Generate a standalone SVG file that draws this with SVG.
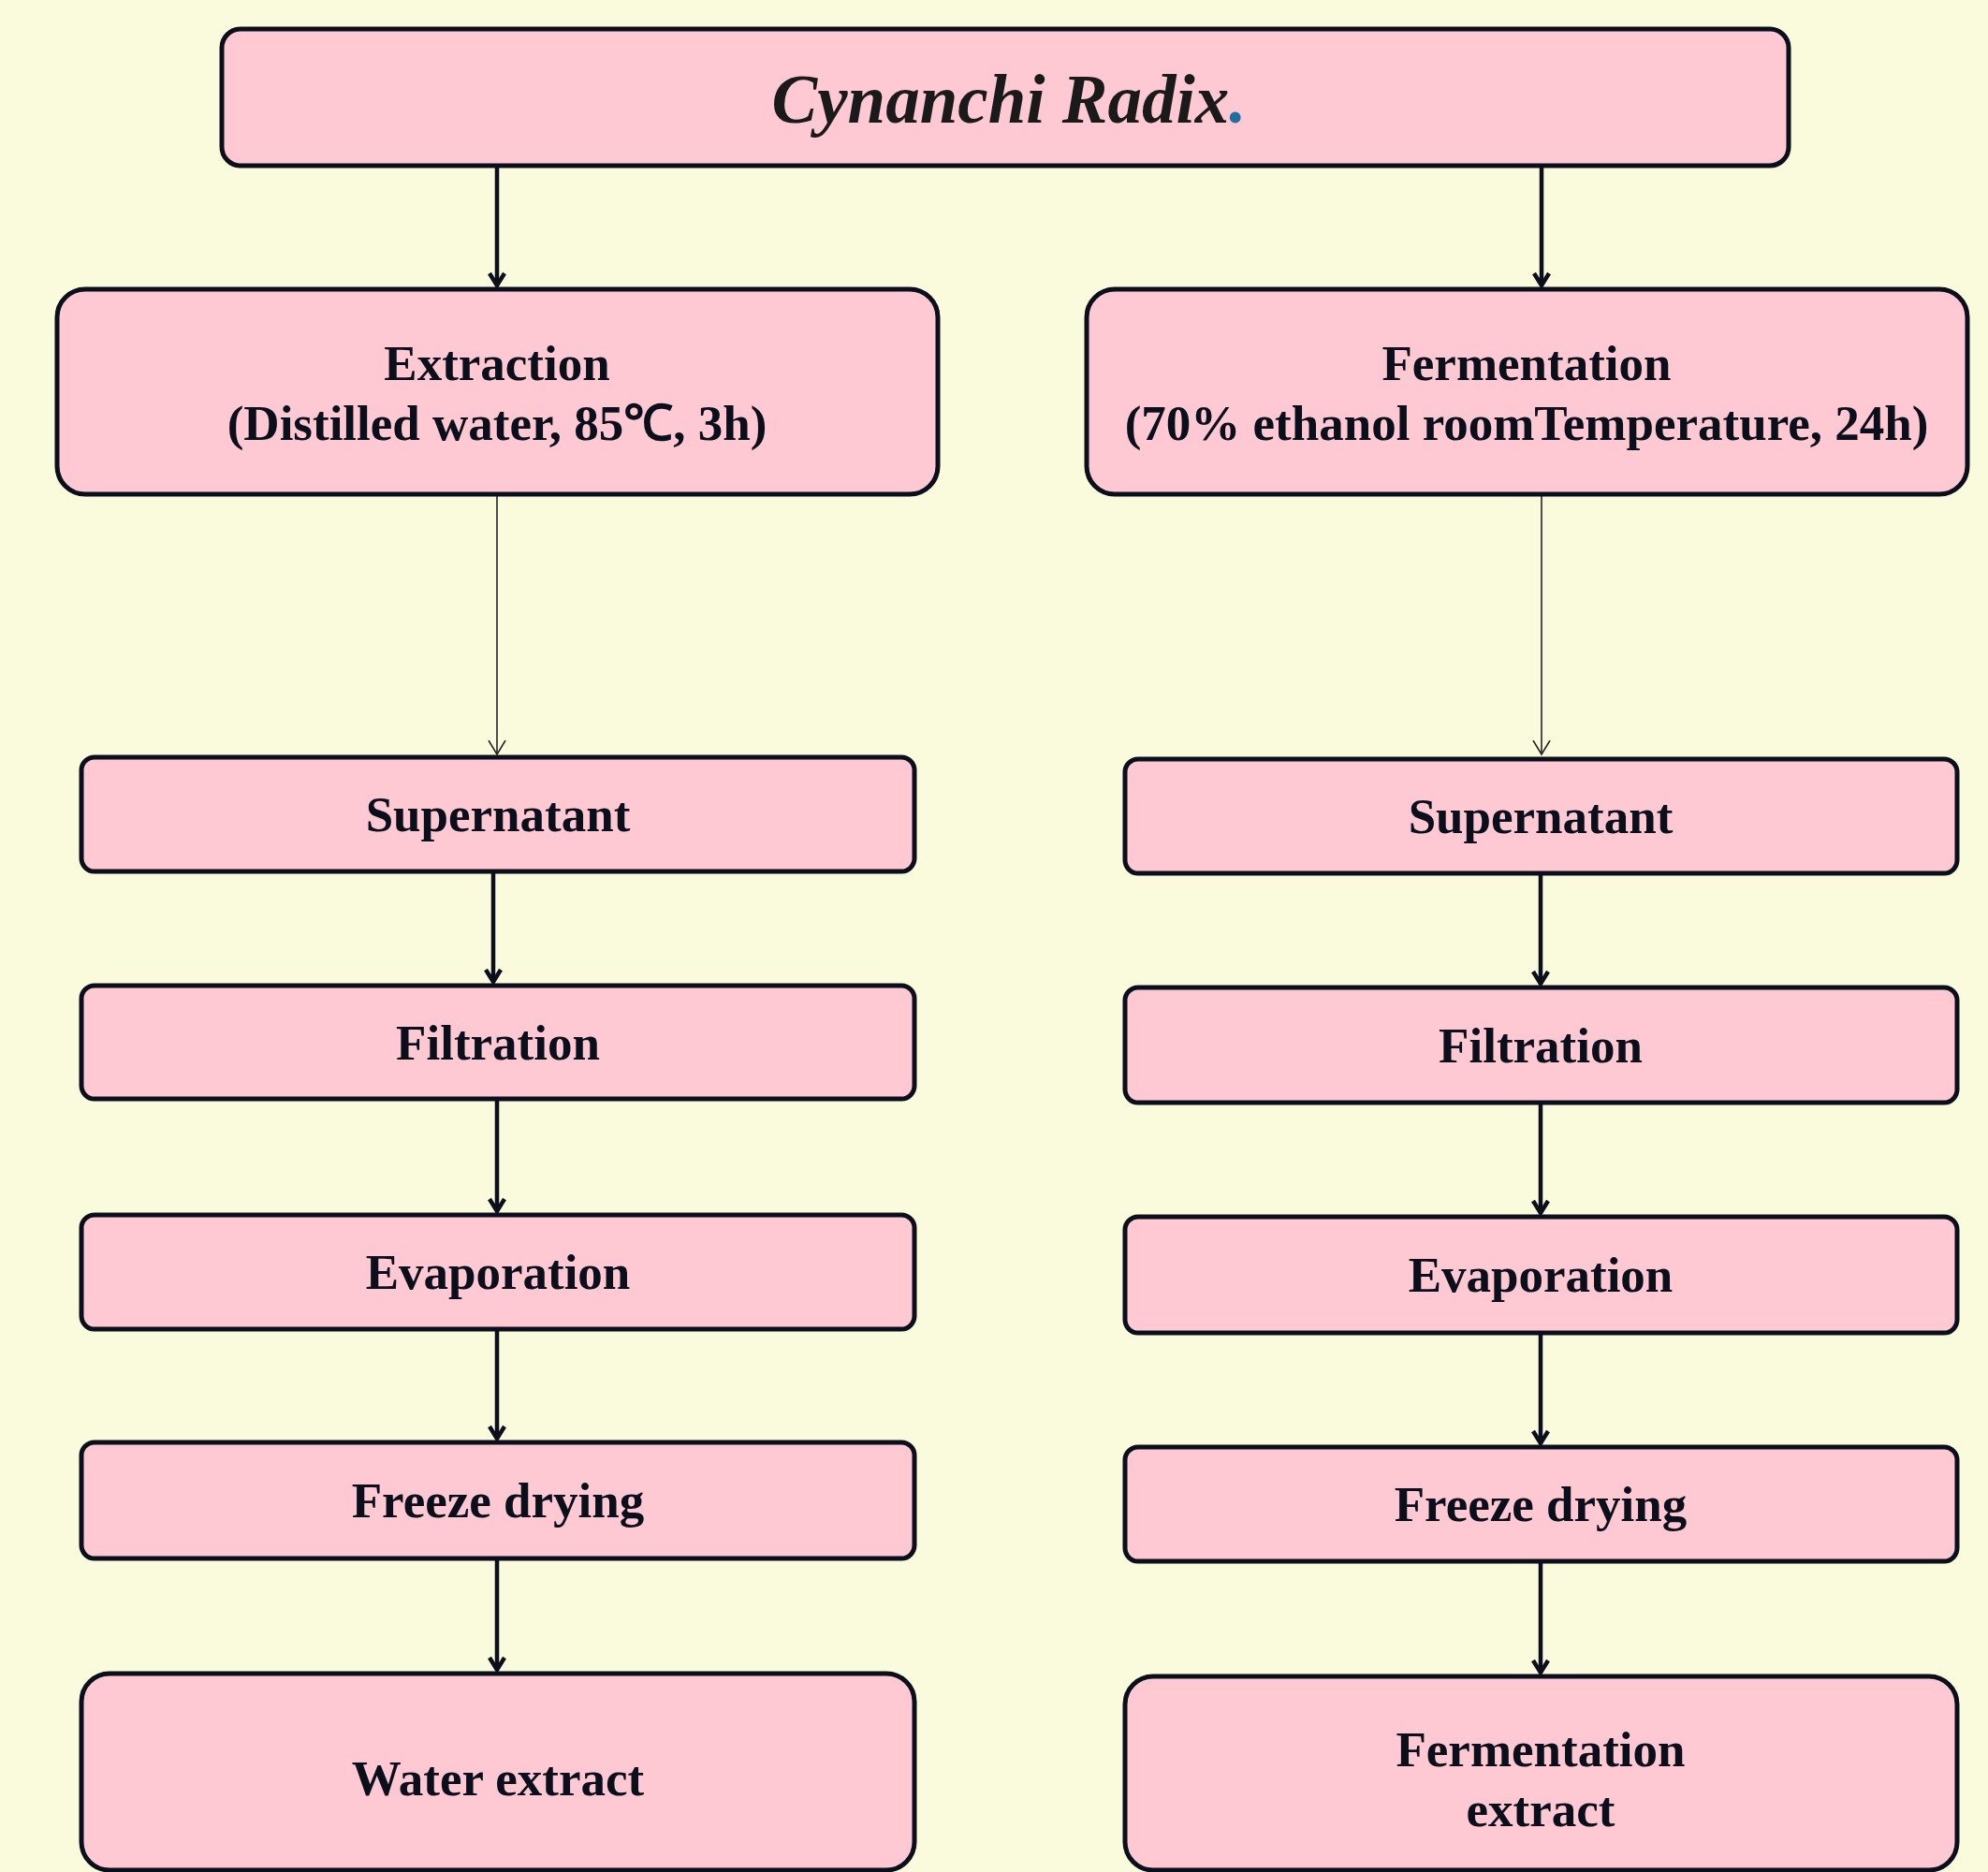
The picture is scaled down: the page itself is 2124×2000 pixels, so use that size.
<svg xmlns="http://www.w3.org/2000/svg" width="2124" height="2000" viewBox="0 0 2124 2000">
<style>
.box{fill:#fec9d3;stroke:#0b0f1c;stroke-width:5}
.t{font-family:"Liberation Serif","Times New Roman",serif;font-weight:bold;font-size:53px;fill:#0b0f1c;text-anchor:middle}
.title{font-family:"Liberation Serif","Times New Roman",serif;font-weight:bold;font-style:italic;font-size:73px;fill:#1a1a1a;text-anchor:middle}
.thick{stroke:#0b0f1c;stroke-width:4.5;fill:none;marker-end:url(#ah)}
.thin{stroke:#222;stroke-width:1.6;fill:none;marker-end:url(#ahs)}
</style>
<defs>
<marker id="ah" markerUnits="userSpaceOnUse" markerWidth="30" markerHeight="30" viewBox="-15 -15 30 30" refX="0" refY="0" orient="auto">
<path d="M-13,-8 L0,0 L-13,8" fill="none" stroke="#0b0f1c" stroke-width="4.5"/>
</marker>
<marker id="ahs" markerUnits="userSpaceOnUse" markerWidth="30" markerHeight="30" viewBox="-15 -15 30 30" refX="0" refY="0" orient="auto">
<path d="M-15,-9 L0,0 L-15,9" fill="none" stroke="#222" stroke-width="1.6"/>
</marker>
</defs>
<rect width="2124" height="2000" fill="#fafadc"/>
<g id="connectors">
<line class="thick" x1="531" y1="173" x2="531" y2="305"/>
<line class="thick" x1="1647" y1="173" x2="1647" y2="305"/>
<line class="thin" x1="531" y1="528" x2="531" y2="806"/>
<line class="thin" x1="1647" y1="528" x2="1647" y2="806"/>
<line class="thick" x1="527" y1="931" x2="527" y2="1049"/>
<line class="thick" x1="531" y1="1174" x2="531" y2="1294"/>
<line class="thick" x1="531" y1="1420" x2="531" y2="1537"/>
<line class="thick" x1="531" y1="1665" x2="531" y2="1784"/>
<line class="thick" x1="1646" y1="933" x2="1646" y2="1051"/>
<line class="thick" x1="1646" y1="1178" x2="1646" y2="1296"/>
<line class="thick" x1="1646" y1="1424" x2="1646" y2="1542"/>
<line class="thick" x1="1646" y1="1668" x2="1646" y2="1787"/>
</g>
<g id="title">
<rect class="box" x="237" y="31" width="1674" height="146" rx="20"/>
<text class="title" x="1078" y="131">Cynanchi Radix<tspan fill="#1f6fa0">.</tspan></text>
</g>
<g id="extraction">
<rect class="box" x="61" y="309" width="941" height="219" rx="30"/>
<text class="t" x="531" y="406">Extraction</text>
<text class="t" x="531" y="470">(Distilled water, 85℃, 3h)</text>
</g>
<g id="fermentation">
<rect class="box" x="1161" y="309" width="941" height="219" rx="30"/>
<text class="t" x="1631" y="406">Fermentation</text>
<text class="t" x="1631" y="470">(70% ethanol roomTemperature, 24h)</text>
</g>
<g id="supernatant-l">
<rect class="box" x="87" y="809" width="890" height="122" rx="14"/>
<text class="t" x="532" y="888">Supernatant</text>
</g>
<g id="filtration-l">
<rect class="box" x="87" y="1053" width="890" height="121" rx="14"/>
<text class="t" x="532" y="1132">Filtration</text>
</g>
<g id="evaporation-l">
<rect class="box" x="87" y="1298" width="890" height="122" rx="14"/>
<text class="t" x="532" y="1377">Evaporation</text>
</g>
<g id="freeze-l">
<rect class="box" x="87" y="1541" width="890" height="124" rx="14"/>
<text class="t" x="532" y="1621">Freeze drying</text>
</g>
<g id="water-extract">
<rect class="box" x="87" y="1788" width="890" height="210" rx="30"/>
<text class="t" x="532" y="1918">Water extract</text>
</g>
<g id="supernatant-r">
<rect class="box" x="1202" y="811" width="889" height="122" rx="14"/>
<text class="t" x="1646" y="890">Supernatant</text>
</g>
<g id="filtration-r">
<rect class="box" x="1202" y="1055" width="889" height="123" rx="14"/>
<text class="t" x="1646" y="1135">Filtration</text>
</g>
<g id="evaporation-r">
<rect class="box" x="1202" y="1300" width="889" height="124" rx="14"/>
<text class="t" x="1646" y="1380">Evaporation</text>
</g>
<g id="freeze-r">
<rect class="box" x="1202" y="1546" width="889" height="122" rx="14"/>
<text class="t" x="1646" y="1625">Freeze drying</text>
</g>
<g id="fermentation-extract">
<rect class="box" x="1202" y="1791" width="889" height="207" rx="30"/>
<text class="t" x="1646" y="1887">Fermentation</text>
<text class="t" x="1646" y="1951">extract</text>
</g>
</svg>
